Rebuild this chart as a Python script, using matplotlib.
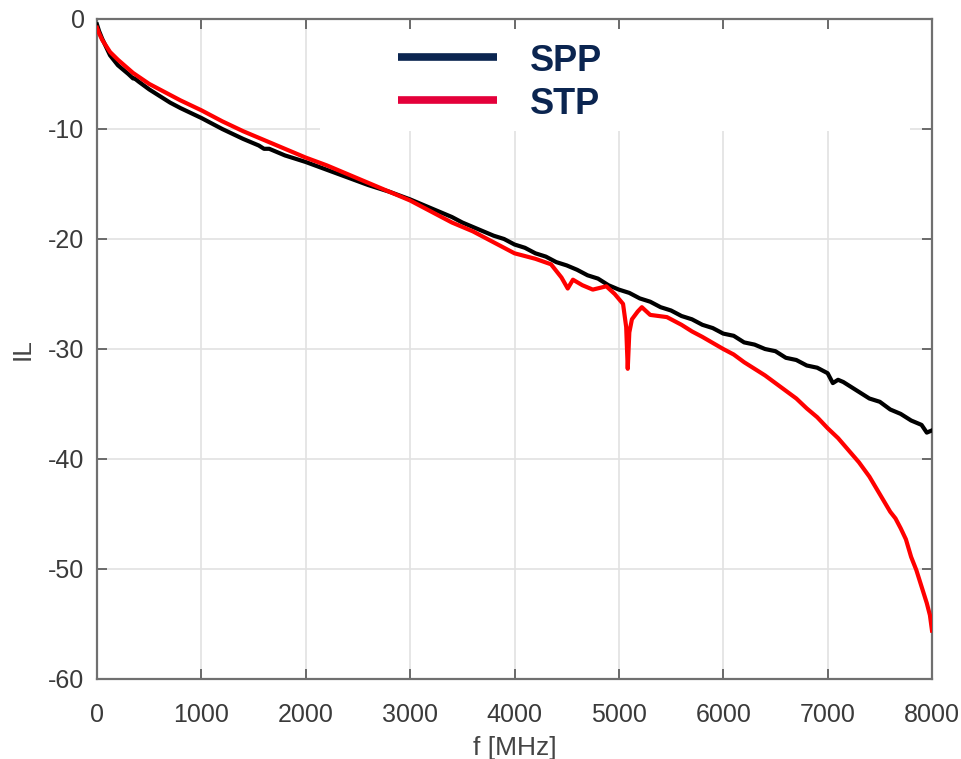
import matplotlib
matplotlib.use("Agg")
import matplotlib.pyplot as plt
from matplotlib.patches import Rectangle

plt.rcParams["axes.unicode_minus"] = False

# insertion loss, f in MHz
spp_f = [0, 20, 50, 125, 200, 300, 345, 360, 400, 500, 600, 700, 800, 1000, 1200, 1400,
         1550, 1600, 1650, 1800, 2000, 2200, 2400, 2600, 2800, 3000, 3200, 3400, 3500,
         3600, 3700, 3800, 3900, 4000, 4100, 4200, 4300, 4400, 4500, 4600, 4700, 4800,
         4900, 5000, 5100, 5200, 5300, 5400, 5500, 5600, 5700, 5800, 5900, 6000, 6100,
         6200, 6300, 6400, 6500, 6600, 6700, 6800, 6900, 7000, 7050, 7100, 7150, 7200,
         7300, 7400, 7500, 7600, 7700, 7800, 7900, 7950, 8000]
spp_il = [-0.5, -1.1, -1.8, -3.3, -4.2, -5.0, -5.4, -5.4, -5.7, -6.4, -7.0, -7.6, -8.1,
          -9.0, -10.0, -10.9, -11.5, -11.8, -11.8, -12.4, -13.0, -13.7, -14.4, -15.1,
          -15.7, -16.4, -17.2, -18.0, -18.5, -18.9, -19.3, -19.7, -20.0, -20.5, -20.8,
          -21.3, -21.6, -22.1, -22.4, -22.8, -23.3, -23.6, -24.2, -24.6, -24.9, -25.4,
          -25.7, -26.2, -26.5, -27.0, -27.3, -27.8, -28.1, -28.6, -28.8, -29.4, -29.6,
          -30.0, -30.2, -30.8, -31.0, -31.5, -31.7, -32.2, -33.1, -32.8, -33.0, -33.3,
          -33.9, -34.5, -34.8, -35.5, -35.9, -36.5, -36.9, -37.6, -37.4]

stp_f = [0, 20, 50, 125, 200, 345, 500, 600, 700, 800, 1000, 1200, 1400, 1600, 1800,
         2000, 2200, 2400, 2600, 2800, 3000, 3200, 3400, 3600, 3800, 4000, 4200, 4350,
         4450, 4510, 4560, 4650, 4750, 4880, 4960, 5040, 5070, 5085, 5100, 5125, 5180,
         5220, 5300, 5460, 5600, 5700, 5800, 6000, 6100, 6200, 6300, 6400, 6500, 6600,
         6700, 6800, 6900, 7000, 7100, 7200, 7300, 7400, 7500, 7600, 7650, 7700, 7750,
         7800, 7850, 7900, 7950, 7980, 8000]
stp_il = [-0.8, -1.3, -1.9, -3.0, -3.7, -4.9, -5.9, -6.4, -6.9, -7.4, -8.3, -9.3,
          -10.2, -11.0, -11.8, -12.6, -13.3, -14.1, -14.9, -15.7, -16.5, -17.5, -18.5,
          -19.3, -20.3, -21.3, -21.8, -22.3, -23.5, -24.5, -23.7, -24.2, -24.6, -24.3,
          -25.0, -25.9, -28.0, -31.8, -28.5, -27.3, -26.6, -26.2, -26.9, -27.1, -27.8,
          -28.4, -28.9, -30.0, -30.5, -31.2, -31.8, -32.4, -33.1, -33.8, -34.5, -35.4,
          -36.2, -37.2, -38.1, -39.2, -40.3, -41.6, -43.2, -44.8, -45.4, -46.3, -47.3,
          -48.9, -50.1, -51.6, -53.1, -54.2, -55.6]

labels = ["SPP", "STP"]
navy = "#0b2550"
red = "#e4003a"
font = "Liberation Sans"

fig = plt.figure(figsize=(9.61, 7.59), dpi=100)
ax = fig.add_axes([97 / 961, 1 - 679 / 759, 835 / 961, 660 / 759])

ax.plot(spp_f, spp_il, color="black", lw=3.0, zorder=3)
ax.plot(stp_f, stp_il, color="#ff0000", lw=3.0, zorder=3)

ax.set_xlim(0, 8000)
ax.set_ylim(-60, 0)
ax.set_xticks(range(0, 8001, 1000))
ax.set_yticks(range(-60, 1, 10))
ax.grid(True, color="#e2e2e2", lw=1.2)
ax.set_axisbelow(True)
ax.tick_params(direction="in", length=7, width=1.2, color="#555555",
               labelsize=18, labelcolor="#3a3a3a", top=True, right=True)
ax.tick_params(axis="x", pad=17)
ax.tick_params(axis="y", pad=9)
for s in ax.spines.values():
    s.set_color("#707070")
    s.set_linewidth(1.6)
for lab in ax.get_xticklabels() + ax.get_yticklabels():
    lab.set_family(font)
ax.set_xlabel("f [MHz]", fontsize=19, color="#444444", family=font, labelpad=7)
ax.set_ylabel("IL", fontsize=19, color="#444444", family=font, labelpad=10)

# white legend panel that hides the grid
ax.add_patch(Rectangle((0.267, 0.83), 0.707, 0.155, transform=ax.transAxes,
                       facecolor="white", edgecolor="none", zorder=1))
for y, c, lab in [(0.942, navy, labels[0]), (0.877, red, labels[1])]:
    ax.plot([0.360, 0.479], [y, y], transform=ax.transAxes, color=c, lw=5.5,
            solid_capstyle="butt", zorder=4)
    ax.text(0.519, y - 0.006, lab, transform=ax.transAxes, fontsize=26,
            fontweight="bold", color=navy, va="center", ha="left",
            family=font, zorder=4)

fig.savefig("out.png", dpi=100)
